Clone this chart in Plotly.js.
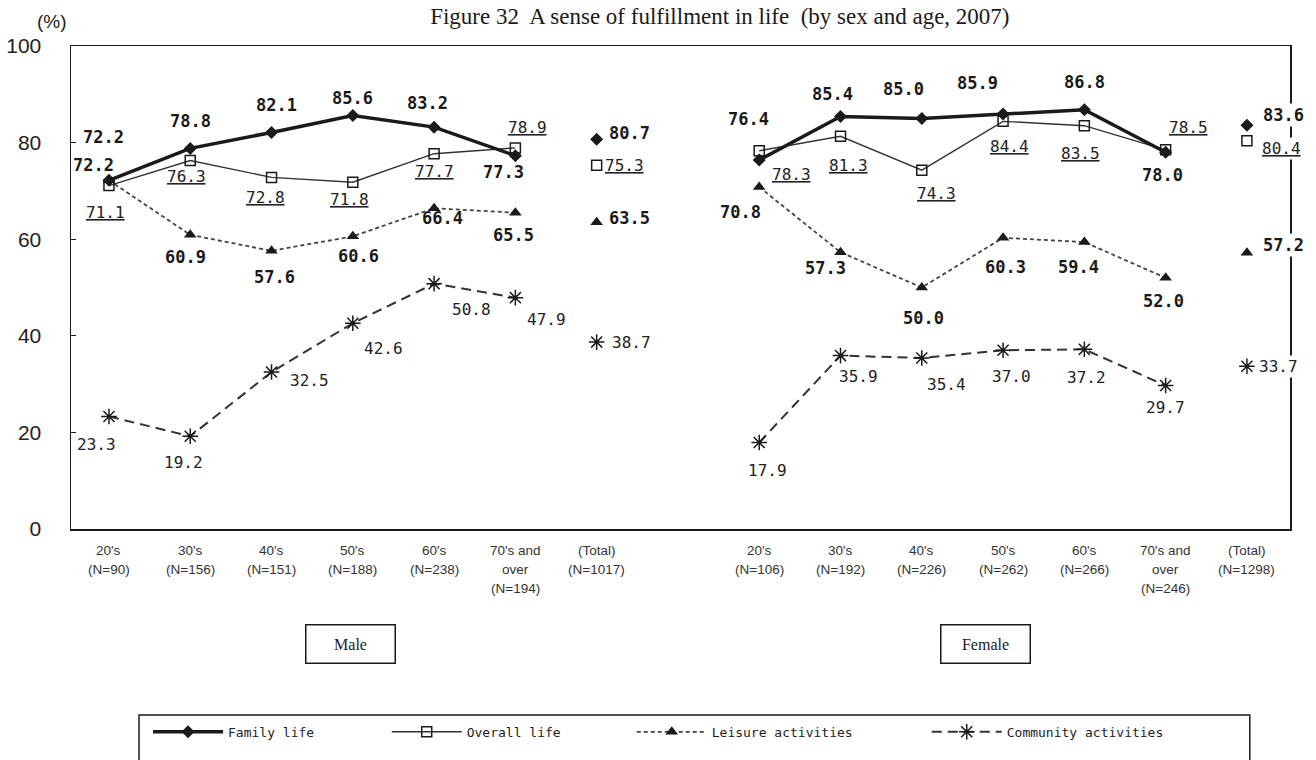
<!DOCTYPE html>
<html><head><meta charset="utf-8">
<script src="https://cdn.plot.ly/plotly-3.0.1.min.js"></script>
<style>html,body{margin:0;padding:0;background:#fff}#chart{width:1316px;height:760px}</style>
</head><body><div id="chart"></div>
<script>
// ---------- data ----------
const maleTicks = ["20's\n(N=90)", "30's\n(N=156)", "40's\n(N=151)", "50's\n(N=188)", "60's\n(N=238)", "70's and\nover\n(N=194)", "(Total)\n(N=1017)"];
const femaleTicks = ["20's\n(N=106)", "30's\n(N=192)", "40's\n(N=226)", "50's\n(N=262)", "60's\n(N=266)", "70's and\nover\n(N=246)", "(Total)\n(N=1298)"];
const seriesNames = ["Family life", "Overall life", "Leisure activities", "Community activities"];
// six age groups followed by the total
const familyMale      = [72.2, 78.8, 82.1, 85.6, 83.2, 77.3, 80.7];
const familyFemale    = [76.4, 85.4, 85.0, 85.9, 86.8, 78.0, 83.6];
const overallMale     = [71.1, 76.3, 72.8, 71.8, 77.7, 78.9, 75.3];
const overallFemale   = [78.3, 81.3, 74.3, 84.4, 83.5, 78.5, 80.4];
const leisureMale     = [72.2, 60.9, 57.6, 60.6, 66.4, 65.5, 63.5];
const leisureFemale   = [70.8, 57.3, 50.0, 60.3, 59.4, 52.0, 57.2];
const communityMale   = [23.3, 19.2, 32.5, 42.6, 50.8, 47.9, 38.7];
const communityFemale = [17.9, 35.9, 35.4, 37.0, 37.2, 29.7, 33.7];
const yTicks = [0, 20, 40, 60, 80, 100];
const titleText = "Figure 32  A sense of fulfillment in life  (by sex and age, 2007)";
const unitText = "(%)";
const groupNames = ["Male", "Female"];

// ---------- label placement (pixel offsets: dx right, dy down) ----------
const offFamily = [
  [[-5,-43],[0,-27],[5,-27],[0,-18],[-7,-24],[-12,16],[33,-6]],
  [[-11,-41],[-8,-23],[-18,-29],[-26,-31],[0,-28],[-3,23],[37,-10]]
];
const offOverall = [
  [[-3,27],[-4,16],[-6,20],[-3,17],[0,18],[12,-20],[28,0]],
  [[32,24],[8,29],[15,23],[6,25],[-4,28],[23,-22],[35,8]]
];
const offLeisure = [
  [[-15,-15],[-5,22],[3,26],[6,20],[8,10],[-2,22],[33,-4]],
  [[-19,25],[-15,16],[2,30],[2,29],[-6,25],[-2,23],[37,-8]]
];
const offCommunity = [
  [[-12,28],[-7,26],[38,8],[31,25],[37,26],[31,22],[35,0]],
  [[8,28],[18,21],[25,26],[8,26],[2,28],[0,22],[32,0]]
];

// ---------- styles ----------
const INK = '#1a1a1a';
const boldFont = {family: 'DejaVu Sans Mono, monospace', size: 17, color: INK, weight: 'bold'};
const regFont  = {family: 'DejaVu Sans Mono, monospace', size: 16, color: '#222'};
const series = [
  {name: seriesNames[0], vals: [familyMale, familyFemale], off: offFamily,
   marker: {symbol: 'diamond', size: 10, color: INK}, line: {color: INK, width: 3.5, dash: 'solid'},
   font: boldFont, underline: false},
  {name: seriesNames[1], vals: [overallMale, overallFemale], off: offOverall,
   marker: {symbol: 'square-open', size: 10, color: INK, line: {width: 1.5, color: INK}}, line: {color: '#333', width: 1.4, dash: 'solid'},
   font: regFont, underline: true},
  {name: seriesNames[2], vals: [leisureMale, leisureFemale], off: offLeisure,
   marker: {symbol: 'triangle-up', size: 11, color: INK}, line: {color: '#444', width: 1.8, dash: '4px,3px'},
   font: boldFont, underline: false},
  {name: seriesNames[3], vals: [communityMale, communityFemale], off: offCommunity,
   marker: {symbol: 'asterisk-open', size: 13, color: INK, line: {width: 1.5, color: INK}}, line: {color: '#333', width: 2, dash: '10px,6px'},
   font: regFont, underline: false}
];
const femaleStart = 8;
const xPos = (g, i) => (g === 0 ? i : femaleStart + i);

// ---------- traces ----------
const traces = [];
const drawOrder = [3, 2, 1, 0];
drawOrder.forEach(si => {
  const s = series[si];
  [0, 1].forEach(g => {
    const v = s.vals[g];
    const ages = v.slice(0, 6);
    traces.push({
      type: 'scatter', mode: 'lines+markers', name: s.name,
      x: ages.map((_, i) => xPos(g, i)), y: ages,
      line: s.line, marker: s.marker,
      showlegend: g === 0,
      legend: si === 0 ? 'legend' : 'legend' + (si + 1),
      hoverinfo: 'skip'
    });
    traces.push({
      type: 'scatter', mode: 'markers', name: s.name,
      x: [xPos(g, 6)], y: [v[6]], marker: s.marker, showlegend: false, hoverinfo: 'skip'
    });
  });
});

// ---------- annotations ----------
const annotations = [];
series.forEach(s => {
  [0, 1].forEach(g => {
    s.vals[g].forEach((val, i) => {
      const o = s.off[g][i];
      const t = val.toFixed(1);
      annotations.push({
        x: xPos(g, i), y: val, xref: 'x', yref: 'y', showarrow: false,
        xanchor: 'center', yanchor: 'middle',
        text: s.underline ? '<u>' + t + '</u>' : t,
        xshift: o[0], yshift: -o[1], font: s.font,
        bgcolor: i === 6 ? '#ffffff' : 'rgba(0,0,0,0)', borderpad: 1
      });
    });
  });
});
// category labels (multi-line under the axis)
[maleTicks, femaleTicks].forEach((ticks, g) => {
  ticks.forEach((lab, i) => {
    lab.split('\n').forEach((line, k) => {
      annotations.push({
        x: xPos(g, i), y: 0, xref: 'x', yref: 'y', showarrow: false,
        text: line, yshift: -(21 + 19 * k), xanchor: 'center', yanchor: 'middle',
        font: {family: 'Liberation Sans, Arial, sans-serif', size: 13.5, color: '#333'}
      });
    });
  });
});
// group boxes
[[groupNames[0], 0.2293], [groupNames[1], 0.7506]].forEach(([txt, px]) => {
  annotations.push({
    x: px, y: -0.238, xref: 'paper', yref: 'paper', showarrow: false,
    xanchor: 'center', yanchor: 'middle',
    text: txt, width: 88, height: 37, borderpad: 0,
    bordercolor: INK, borderwidth: 1.5, bgcolor: '#fff',
    font: {family: 'Liberation Serif, Times New Roman, serif', size: 16, color: INK}
  });
});
annotations.push({
  x: -0.0156, y: 1.05, xref: 'paper', yref: 'paper', showarrow: false,
  xanchor: 'center', yanchor: 'middle',
  text: unitText, font: {family: 'Liberation Sans, Arial, sans-serif', size: 19, color: '#222'}
});

// ---------- legends ----------
const legFont = {family: 'DejaVu Sans Mono, monospace', size: 13, color: '#222'};
const legX = [0.0632, 0.259, 0.460, 0.702];
const legBase = {orientation: 'h', y: -0.42, yanchor: 'middle', xanchor: 'left',
  font: legFont, itemwidth: 70, bgcolor: 'rgba(0,0,0,0)', borderwidth: 0};

const layout = {
  width: 1316, height: 760,
  margin: {l: 71, r: 26, t: 46, b: 231},
  paper_bgcolor: '#fff', plot_bgcolor: '#fff',
  title: {text: titleText, x: 0.547, xanchor: 'center', y: 0.979, yanchor: 'middle',
    font: {family: 'Liberation Serif, Times New Roman, serif', size: 23, color: INK}},
  xaxis: {range: [-0.467, 14.53], showticklabels: false, ticks: '', showgrid: false, zeroline: false,
    showline: true, mirror: true, linecolor: INK, linewidth: 1.5, fixedrange: true},
  yaxis: {range: [0, 100], tickvals: yTicks, ticks: 'inside', ticklen: 5, tickcolor: INK, tickwidth: 1,
    showgrid: false, zeroline: false, showline: true, mirror: true, linecolor: INK, linewidth: 1.5,
    ticklabelstandoff: 24, tickfont: {family: 'Liberation Sans, Arial, sans-serif', size: 21, color: '#222'}, fixedrange: true},
  legend:  Object.assign({}, legBase, {x: legX[0]}),
  legend2: Object.assign({}, legBase, {x: legX[1]}),
  legend3: Object.assign({}, legBase, {x: legX[2]}),
  legend4: Object.assign({}, legBase, {x: legX[3]}),
  shapes: [{type: 'rect', xref: 'paper', yref: 'paper', x0: 0.0558, x1: 0.967, y0: -0.52, y1: -0.385,
    line: {color: INK, width: 1.5}, fillcolor: 'rgba(0,0,0,0)'}],
  annotations: annotations,
  showlegend: true
};

Plotly.newPlot('chart', traces, layout, {staticPlot: true, displayModeBar: false});
</script>
</body></html>
